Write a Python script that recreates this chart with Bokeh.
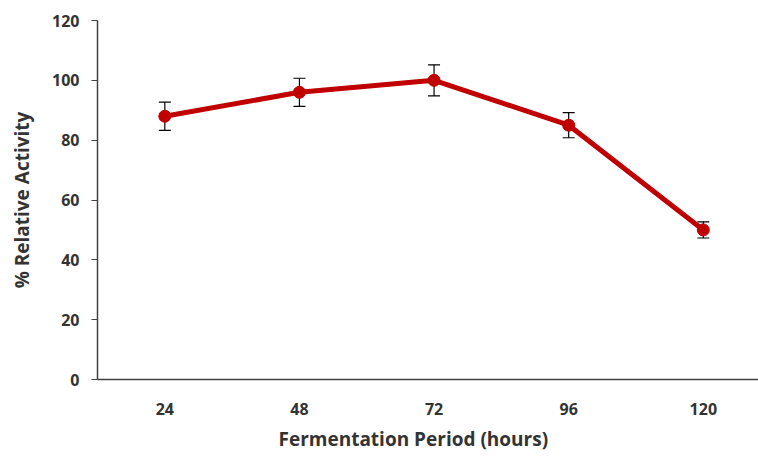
from bokeh.plotting import figure
from bokeh.models import Range1d, FixedTicker, Whisker, ColumnDataSource, Title
from bokeh.embed import file_html
from bokeh.resources import INLINE

# Data
periods = ["24", "48", "72", "96", "120"]
activity = [88, 96, 100, 85, 50]
errors = [4.7, 4.7, 5.2, 4.2, 2.7]
y_ticks = [0, 20, 40, 60, 80, 100, 120]

xpos = list(range(1, len(periods) + 1))
src = ColumnDataSource(dict(
    x=xpos, y=activity,
    upper=[a + e for a, e in zip(activity, errors)],
    lower=[a - e for a, e in zip(activity, errors)],
))

p = figure(width=758, height=457, output_backend="svg", toolbar_location=None,
           x_range=Range1d(0.5, 5.41), y_range=Range1d(0, 120),
           min_border_left=97, min_border_right=0, min_border_top=20, min_border_bottom=0)
p.outline_line_color = None
p.grid.visible = False
p.background_fill_color = "white"
p.border_fill_color = "white"

text_col = "#333333"
font = "Open Sans"

p.xaxis.ticker = FixedTicker(ticks=xpos)
p.xaxis.major_label_overrides = {i: s for i, s in zip(xpos, periods)}
p.xaxis.major_tick_line_color = None
p.xaxis.minor_tick_line_color = None
p.xaxis.axis_line_color = "#404040"
p.xaxis.axis_line_width = 1.5
p.xaxis.major_label_text_font = font
p.xaxis.major_label_text_font_style = "bold"
p.xaxis.major_label_text_font_size = "16px"
p.xaxis.major_label_text_color = text_col
p.xaxis.major_label_standoff = 17

p.yaxis.ticker = FixedTicker(ticks=y_ticks)
p.yaxis.minor_tick_line_color = None
p.yaxis.major_tick_in = 0
p.yaxis.major_tick_out = 6
p.yaxis.major_tick_line_color = "#404040"
p.yaxis.axis_line_color = "#404040"
p.yaxis.axis_line_width = 1.5
p.yaxis.major_label_text_font = font
p.yaxis.major_label_text_font_style = "bold"
p.yaxis.major_label_text_font_size = "16px"
p.yaxis.major_label_text_color = text_col
p.yaxis.major_label_standoff = 12
p.yaxis.axis_label = "% Relative Activity"
p.yaxis.axis_label_text_font = font
p.yaxis.axis_label_text_font_style = "bold"
p.yaxis.axis_label_text_font_size = "19px"
p.yaxis.axis_label_text_color = text_col
p.yaxis.axis_label_standoff = 14

p.line("x", "y", source=src, line_color="#C00000", line_width=5)
p.scatter("x", "y", source=src, size=12, fill_color="#C00000", line_color="#C00000")

w = Whisker(base="x", upper="upper", lower="lower", source=src,
            line_color="black", line_width=1.2)
w.upper_head.size = 12
w.lower_head.size = 12
w.upper_head.line_color = "black"
w.lower_head.line_color = "black"
w.upper_head.line_width = 1.2
w.lower_head.line_width = 1.2
p.add_layout(w)

xt = Title(text="Fermentation Period (hours)", align="left", offset=181,
           text_font=font, text_font_style="bold", text_font_size="19px",
           text_color=text_col, standoff=12)
p.add_layout(xt, "below")

open("out.html", "w").write(file_html(p, INLINE))
